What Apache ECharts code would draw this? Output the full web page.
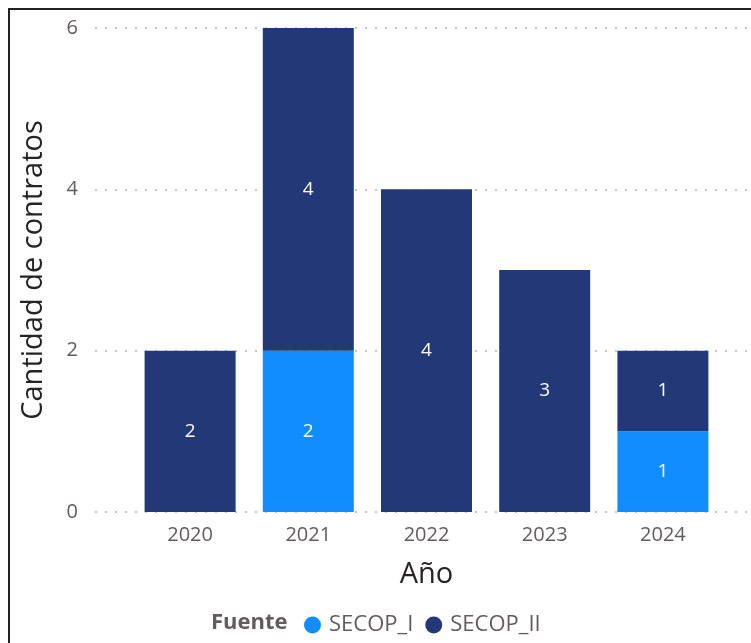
<!DOCTYPE html>
<html><head><meta charset="utf-8">
<script src="https://cdn.jsdelivr.net/npm/echarts@6/dist/echarts.min.js"></script>
<style>
html,body{margin:0;padding:0;background:#fff;}
#frame{position:absolute;left:8px;top:8px;width:760px;height:700px;border-left:2px solid #222;border-top:2px solid #222;box-sizing:border-box;}
#c{position:absolute;left:0;top:0;width:751px;height:643px;}
</style></head>
<body>
<div id="c"></div>
<div id="frame"></div>
<script>
const years = ['2020','2021','2022','2023','2024'];
const secopI = [0, 2, 0, 0, 1];
const secopII = [2, 4, 4, 3, 1];
const yTicks = [0, 2, 4, 6];

const chart = echarts.init(document.getElementById('c'));
const font = '"Open Sans", "Noto Sans", sans-serif';
const lbl = {show:true, position:'inside', color:'#ffffff', fontSize:19, fontFamily:font,
  formatter: p => p.value ? String(p.value) : ''};
chart.setOption({
  animation:false,
  grid:[
    {left:95, right:0, top:28, bottom:131},
    {left:131, width:591, top:28, bottom:131}
  ],
  legend:{
    left:299, top:609, itemWidth:17, itemHeight:17, itemGap:12, icon:'circle',
    textStyle:{color:'#605E5C', fontSize:22, fontFamily:font, padding:[0,0,0,3]},
    data:['SECOP_I','SECOP_II']
  },
  graphic:[{type:'text', left:211, top:612, style:{text:'Fuente', fill:'#605E5C', font:'bold 22px "Open Sans", sans-serif'}}],
  xAxis:[
    {gridIndex:0, type:'category', data:years, show:false},
    {gridIndex:1, type:'category', data:years,
     axisLine:{show:false}, axisTick:{show:false},
     axisLabel:{color:'#605E5C', fontSize:20, fontFamily:font, margin:13},
     name:'Año', nameLocation:'middle', nameGap:48,
     nameTextStyle:{color:'#252423', fontSize:29, fontFamily:font}}
  ],
  yAxis:[
    {gridIndex:0, type:'value', min:0, max:6, interval:2,
     axisLine:{show:false}, axisTick:{show:false},
     axisLabel:{color:'#605E5C', fontSize:20, fontFamily:font, margin:17,
       customValues: yTicks},
     splitLine:{lineStyle:{color:'#C8C6C4', type:[2,8], width:2}},
     name:'Cantidad de contratos', nameLocation:'middle', nameGap:47,
     nameTextStyle:{color:'#252423', fontSize:29, fontFamily:font}},
    {gridIndex:1, type:'value', min:0, max:6, interval:2, show:false, splitLine:{show:false}}
  ],
  series:[
    {name:'SECOP_I', type:'bar', stack:'a', xAxisIndex:1, yAxisIndex:1, data:secopI,
     barWidth:91, itemStyle:{color:'#118DFF'}, label:lbl},
    {name:'SECOP_II', type:'bar', stack:'a', xAxisIndex:1, yAxisIndex:1, data:secopII,
     barWidth:91, itemStyle:{color:'#233876'}, label:lbl}
  ]
});
</script>
</body></html>
